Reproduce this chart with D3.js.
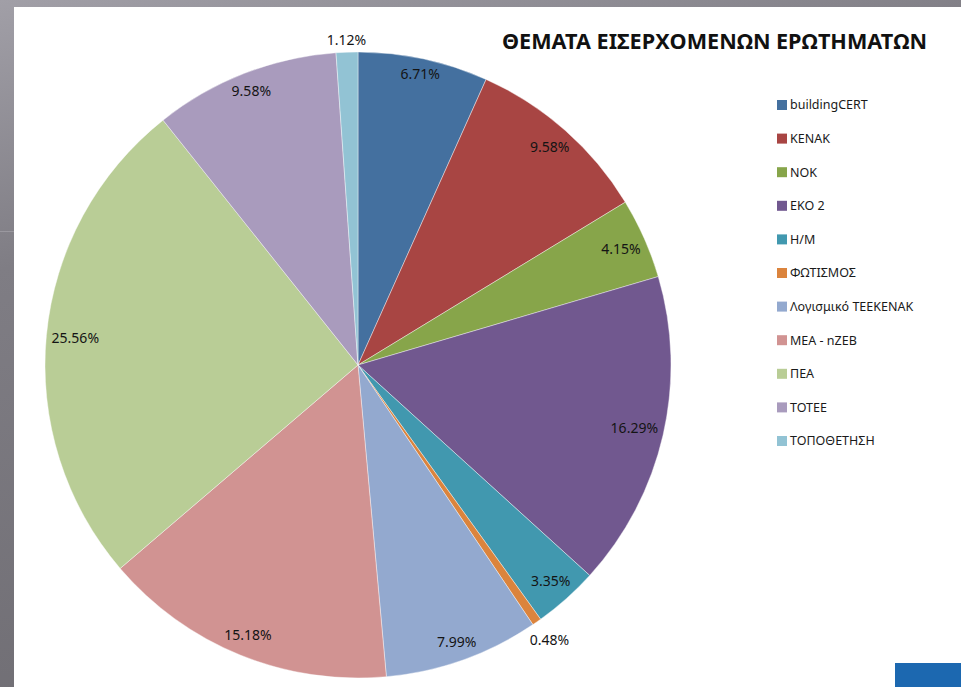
<!DOCTYPE html>
<html>
<head>
<meta charset="utf-8">
<script src="https://cdn.jsdelivr.net/npm/d3@7"></script>
<style>
  html, body { margin: 0; padding: 0; }
  body { width: 961px; height: 687px; overflow: hidden; }
  text { font-family: "Noto Sans", "Open Sans", sans-serif; }
</style>
</head>
<body>
<div class="plot"></div>
<script>
var W = 961, H = 687;

var categories = ['buildingCERT', 'ΚΕΝΑΚ', 'ΝΟΚ', 'ΕΚΟ 2', 'Η/Μ', 'ΦΩΤΙΣΜΟΣ',
                  'Λογισμικό ΤΕΕΚΕΝΑΚ', 'ΜΕΑ - nZEB', 'ΠΕΑ', 'ΤΟΤΕΕ', 'ΤΟΠΟΘΕΤΗΣΗ'];
var values = [6.71, 9.58, 4.15, 16.29, 3.35, 0.48, 7.99, 15.18, 25.56, 9.58, 1.12];
var colors = ['#44709f', '#a84543', '#87a54a', '#71588f', '#4198af', '#db843d',
              '#93a9cf', '#d19392', '#b9cd96', '#a99bbd', '#92c3d4'];
// small slices get their label outside the pie
var outside = ['ΦΩΤΙΣΜΟΣ', 'ΤΟΠΟΘΕΤΗΣΗ'];
var title = 'ΘΕΜΑΤΑ ΕΙΣΕΡΧΟΜΕΝΩΝ ΕΡΩΤΗΜΑΤΩΝ';

var cx = 358, cy = 365, R = 313;

var svg = d3.select('.plot').append('svg')
    .attr('width', W).attr('height', H);

// slide background
var defs = svg.append('defs');
var grad = defs.append('linearGradient').attr('id', 'bg')
    .attr('x1', 0).attr('y1', 0).attr('x2', 0.35).attr('y2', 1);
grad.append('stop').attr('offset', 0).attr('stop-color', '#a19fa7');
grad.append('stop').attr('offset', 0.35).attr('stop-color', '#7f7d84');
grad.append('stop').attr('offset', 1).attr('stop-color', '#6f6d73');
svg.append('rect').attr('width', W).attr('height', H).attr('fill', 'url(#bg)');
svg.append('line').attr('x1', 0).attr('x2', 14).attr('y1', 231.5).attr('y2', 231.5)
    .attr('stroke', '#9a989f').attr('stroke-width', 1);

// white chart area
svg.append('rect').attr('x', 14).attr('y', 7).attr('width', W - 14).attr('height', H - 7)
    .attr('fill', '#ffffff');
svg.append('rect').attr('x', 895).attr('y', 663).attr('width', 66).attr('height', 24)
    .attr('fill', '#1c68b0');

var color = d3.scaleOrdinal().domain(categories).range(colors);

var pie = d3.pie().sort(null).value(function(d){return d.v});
var arcs = pie(categories.map(function(c,i){return {c:c, v:values[i]}}));
var arc = d3.arc().innerRadius(0).outerRadius(R);

var g = svg.append('g').attr('transform', 'translate(' + cx + ',' + cy + ')');

g.selectAll('path')
    .data(arcs)
    .enter()
    .append('path')
    .attr('d', arc)
    .attr('fill', function(d){return color(d.data.c)})
    .attr('stroke', '#ffffff')
    .attr('stroke-opacity', 0.5)
    .attr('stroke-width', 0.8);

// labels: box placed so its far corner sits just inside the rim (or near corner just outside)
var labels = g.selectAll('text.lbl')
    .data(arcs)
    .enter()
    .append('text')
    .attr('class', 'lbl')
    .attr('text-anchor', 'middle')
    .attr('dy', '0.35em')
    .style('font-size', '14px')
    .attr('fill', '#141414')
    .text(function(d){return d.data.v.toFixed(2) + '%'});

labels.each(function(d){
    var bw = this.getComputedTextLength() / 2, bh = 7;
    var a = (d.startAngle + d.endAngle) / 2;
    var sx = Math.sin(a), sy = -Math.cos(a);
    var out = outside.indexOf(d.data.c) >= 0;
    var r = 0, step = 0.5;
    for (r = 0; r < R + 60; r += step) {
        var x = Math.abs(sx * r), y = Math.abs(sy * r);
        if (!out) {
            if (Math.hypot(x + bw, y + bh) > R - 5) break;
        } else {
            if (Math.hypot(Math.max(0, x - bw), Math.max(0, y - bh)) > R + 5) break;
        }
    }
    d3.select(this).attr('x', sx * r).attr('y', sy * r);
});

// title
var t = svg.append('text')
    .attr('x', 502).attr('y', 49)
    .style('font-size', '22px')
    .style('font-weight', 'bold')
    .attr('fill', '#111')
    .attr('textLength', 425)
    .attr('lengthAdjust', 'spacingAndGlyphs')
    .text(title);

// legend
var legend = svg.append('g').attr('transform', 'translate(777,105)');
var rows = legend.selectAll('g')
    .data(categories)
    .enter()
    .append('g')
    .attr('transform', function(d,i){return 'translate(0,' + (i * 33.6) + ')'});
rows.append('rect')
    .attr('x', 0).attr('y', -5).attr('width', 10).attr('height', 10)
    .attr('fill', function(d){return color(d)});
rows.append('text')
    .attr('x', 13).attr('dy', '0.35em')
    .style('font-size', '12.5px')
    .attr('fill', '#1a1a1a')
    .text(function(d){return d});
</script>
</body>
</html>
